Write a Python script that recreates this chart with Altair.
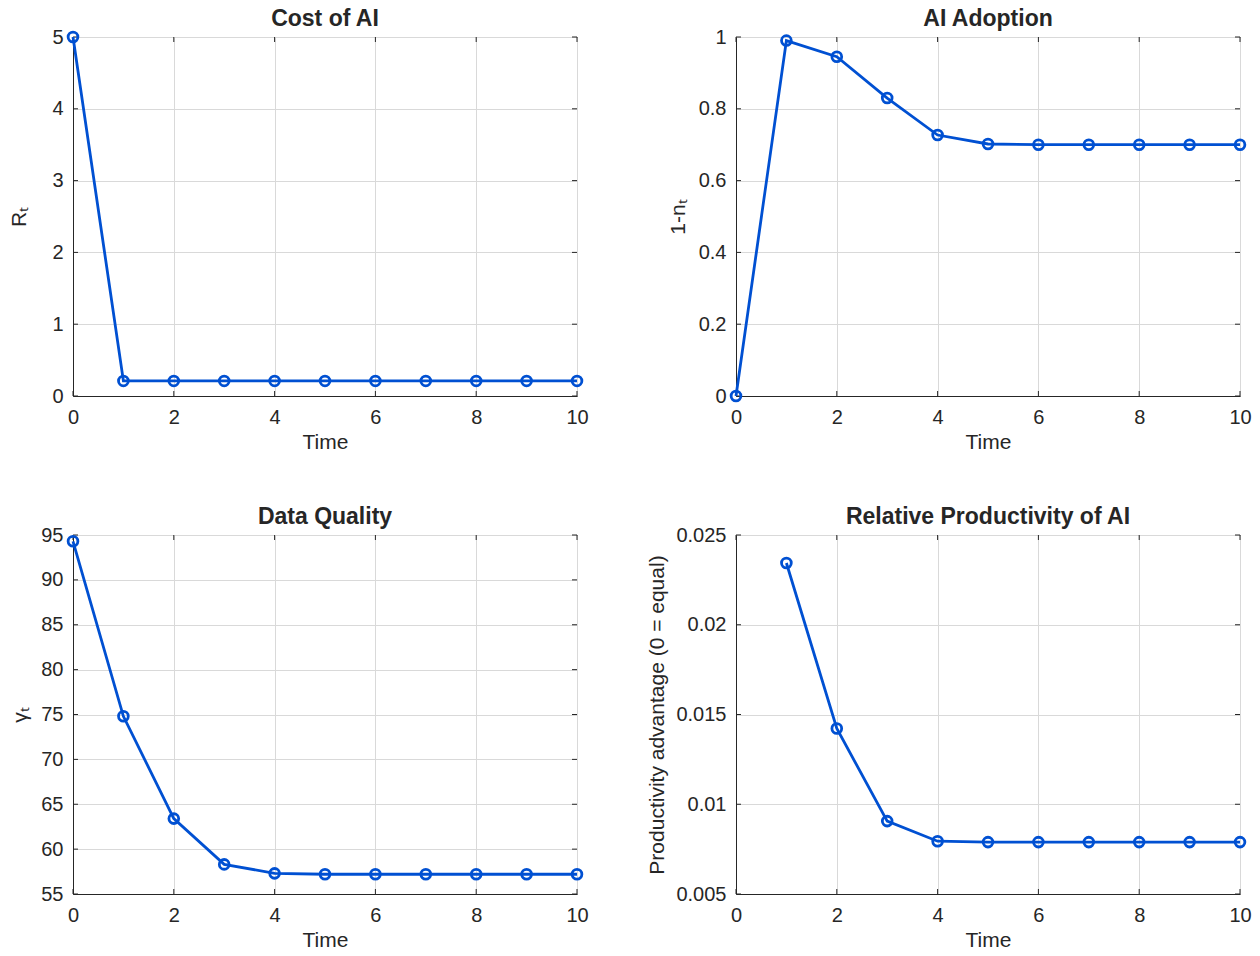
import altair as alt
import pandas as pd

# ---- data ----
time = [0, 1, 2, 3, 4, 5, 6, 7, 8, 9, 10]
cost = [5.0, 0.21, 0.21, 0.21, 0.21, 0.21, 0.21, 0.21, 0.21, 0.21, 0.21]
adoption = [0.0, 0.99, 0.945, 0.83, 0.727, 0.702, 0.700, 0.700, 0.700, 0.700, 0.700]
quality = [94.3, 74.8, 63.4, 58.3, 57.3, 57.2, 57.2, 57.2, 57.2, 57.2, 57.2]
prod_time = [1, 2, 3, 4, 5, 6, 7, 8, 9, 10]
productivity = [0.02344, 0.01422, 0.00906, 0.00794, 0.00789, 0.00789,
                0.00789, 0.00789, 0.00789, 0.00789]

x_ticks = [0, 2, 4, 6, 8, 10]

BLUE = "#0050D2"
DARK = "#262626"
W, H = 504, 359
FONT = "Liberation Sans"


def panel(t, v, title, ytitle, ydomain, yticks, yformat, title_pad):
    df = pd.DataFrame({"t": t, "v": v})
    xenc = alt.X("t:Q", scale=alt.Scale(domain=[0, 10], nice=False, zero=False),
                 axis=alt.Axis(values=x_ticks, title="Time", format="d"))
    yenc = alt.Y("v:Q", scale=alt.Scale(domain=ydomain, nice=False, zero=False),
                 axis=alt.Axis(values=yticks, title=ytitle, format=yformat,
                               titlePadding=title_pad))
    line = alt.Chart(df).mark_line(color=BLUE, strokeWidth=2.8).encode(x=xenc, y=yenc)
    pts = alt.Chart(df).mark_point(shape="circle", filled=False, size=95,
                                   strokeWidth=2.8, color=BLUE, opacity=1).encode(
        x=alt.X("t:Q"), y=alt.Y("v:Q"))

    xt = pd.DataFrame({"t": x_ticks})
    yt = pd.DataFrame({"v": yticks})
    xt_bot = alt.Chart(xt).mark_rule(color=DARK, strokeWidth=1).encode(
        x=alt.X("t:Q"), y=alt.value(H), y2=alt.value(H - 5))
    xt_top = alt.Chart(xt).mark_rule(color=DARK, strokeWidth=1).encode(
        x=alt.X("t:Q"), y=alt.value(0), y2=alt.value(5))
    yt_left = alt.Chart(yt).mark_rule(color=DARK, strokeWidth=1).encode(
        y=alt.Y("v:Q"), x=alt.value(0), x2=alt.value(5))
    yt_right = alt.Chart(yt).mark_rule(color=DARK, strokeWidth=1).encode(
        y=alt.Y("v:Q"), x=alt.value(W), x2=alt.value(W - 5))

    return alt.layer(xt_bot, xt_top, yt_left, yt_right, line, pts).properties(
        width=W, height=H,
        title=alt.TitleParams(title, fontSize=23, fontWeight="bold", color=DARK,
                              font=FONT, offset=-4, anchor="middle", frame="group"))


p1 = panel(time, cost, "Cost of AI", "Rₜ", [0, 5], [0, 1, 2, 3, 4, 5], "d", 22)
p2 = panel(time, adoption, "AI Adoption", "1-nₜ", [0, 1],
           [0, 0.2, 0.4, 0.6, 0.8, 1], "~g", 10)
p3 = panel(time, quality, "Data Quality", "γₜ", [55, 95],
           [55, 60, 65, 70, 75, 80, 85, 90, 95], "d", 10)
p4 = panel(prod_time, productivity, "Relative Productivity of AI",
           "Productivity advantage (0 = equal)", [0.005, 0.025],
           [0.005, 0.01, 0.015, 0.02, 0.025], "~g", 8)

chart = alt.concat(p1, p2, p3, p4, columns=2,
                   spacing={"row": 139, "column": 159},
                   bounds="flush").properties(
    padding={"left": 8, "top": 7, "right": 5, "bottom": 5},
    background="white",
).configure_view(stroke=DARK, strokeWidth=1).configure_axis(
    grid=True, gridColor="#d9d9d9", gridWidth=1,
    domainColor=DARK, domainWidth=1, ticks=False,
    labelFont=FONT, labelFontSize=20, labelColor=DARK, labelPadding=10,
    titleFont=FONT, titleFontSize=21, titleFontWeight="normal", titleColor=DARK,
    labelFlush=False, labelOverlap=False,
).configure_axisX(labelPadding=11, titlePadding=4)

chart.save("out.html", embed_options={"renderer": "svg", "actions": False})
